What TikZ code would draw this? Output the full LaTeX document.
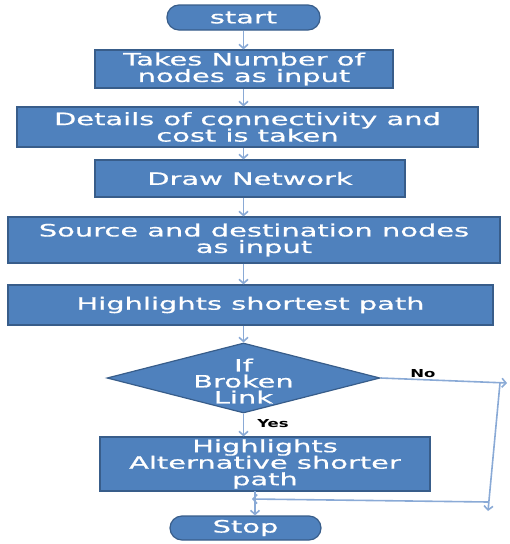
\documentclass[tikz,border=0pt]{standalone}
\usepackage{fontspec}
\usetikzlibrary{shapes.geometric,arrows.meta}
\newfontfamily\boxfont[FakeStretch=1.7,FakeBold=0.7]{DejaVu Sans}
\newfontfamily\lblfont[FakeStretch=1.5]{DejaVu Sans}
\definecolor{boxfill}{HTML}{4F81BD}
\definecolor{boxline}{HTML}{385D8A}
\definecolor{arrowc}{HTML}{8AAAD6}
\begin{document}
\begin{tikzpicture}[x=1pt,y=-1pt,
  flowbox/.style={rectangle, fill=boxfill, draw=boxline, line width=1.2pt, text=white,
    font=\boxfont\fontsize{17}{16.5}\selectfont, align=center, inner sep=0pt},
  term/.style={flowbox, rounded corners=12pt},
  decision/.style={diamond, fill=boxfill, draw=boxline, line width=1.2pt, inner sep=0pt},
  dectext/.style={text=white, font=\boxfont\fontsize{17}{16}\selectfont, align=center},
  conn/.style={draw=arrowc, line width=1.6pt, -{Straight Barb[length=4pt,width=9pt]}},
  lbl/.style={font=\lblfont\bfseries\fontsize{11}{13}\selectfont, text=black}]
\useasboundingbox (0,0) rectangle (510,544);

\node[term, minimum width=153pt, minimum height=25pt] (start) at (243.5,17.5) {start};
\node[flowbox, minimum width=298pt, minimum height=38pt] (b1) at (244,69) {Takes Number of\\nodes as input};
\node[flowbox, minimum width=461pt, minimum height=40pt] (b2) at (247.5,127) {Details of connectivity and\\cost is taken};
\node[flowbox, minimum width=310pt, minimum height=37pt] (b3) at (250,178.5) {Draw Network};
\node[flowbox, minimum width=492pt, minimum height=46pt] (b4) at (254,240) {Source and destination nodes\\as input};
\node[flowbox, minimum width=485pt, minimum height=40pt] (b5) at (250.5,305) {Highlights shortest path};
\node[decision, minimum width=273pt, minimum height=70pt] (dec) at (243.5,378) {};
\node[dectext] (dect) at (243.5,381) {If\\Broken\\Link};
\node[flowbox, minimum width=330pt, minimum height=54pt] (b6) at (265,464) {Highlights\\Alternative shorter\\path};
\node[term, minimum width=151pt, minimum height=24pt] (stop) at (245.5,528) {Stop};

\draw[conn] (start.south) -- (start.south |- b1.north);
\draw[conn] (start.south |- b1.south) -- (start.south |- b2.north);
\draw[conn] (start.south |- b2.south) -- (start.south |- b3.north);
\draw[conn] (start.south |- b3.south) -- (start.south |- b4.north);
\draw[conn] (start.south |- b4.south) -- (start.south |- b5.north);
\draw[conn] (start.south |- b5.south) -- (dec.north);
\draw[conn] (dec.south) -- (dec.south |- b6.north);
\coordinate (s6) at (255,491);
\draw[conn] (s6) -- (s6 |- stop.north);

\coordinate (r1) at (507,383);
\coordinate (r2) at (500,383);
\coordinate (r3) at (488,511);
\coordinate (r4) at (488,502);
\coordinate (r5) at (252,499);
\draw[conn] (dec.east) -- (r1);
\draw[conn] (r2) -- (r3);
\draw[conn] (r4) -- (r5);

\node[lbl] (no) at (423,374) {No};
\node[lbl] (yes) at (273,424) {Yes};
\end{tikzpicture}
\end{document}
